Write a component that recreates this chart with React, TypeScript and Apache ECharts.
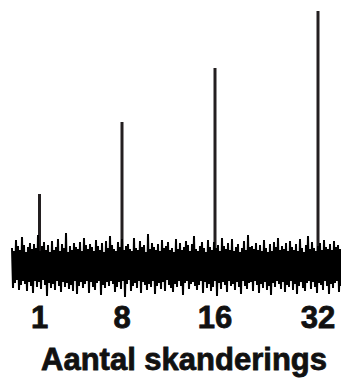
import React, { useEffect, useRef } from "react";
import * as echarts from "echarts";

// Scan counts and peak heights (in axis units; noise centred on 0)
const scanLabels = ["1", "8", "16", "32"];
const peakPositions = [28.5, 111, 204, 307];
const peakHeights = [72, 144, 198, 255];

// Baseline noise samples, read by eye from the band
const noise = [
  18, -22, 15, -17, 26, -14, 20, -24, 16, -19, 29, -15, 21, -18, 14, -25, 19, -16, 23, -20,
  17, -27, 22, -15, 18, -21, 31, -16, 15, -23, 20, -14, 24, -19, 16, -30, 21, -17, 14, -22,
  25, -18, 16, -24, 19, -15, 27, -20, 15, -26, 22, -16, 18, -21, 33, -17, 14, -23, 20, -19,
  16, -25, 23, -15, 19, -28, 17, -20, 24, -16, 15, -22, 28, -18, 21, -15, 17, -27, 22, -16,
  19, -21, 15, -24, 26, -17, 20, -15, 16, -29, 23, -19, 14, -22, 25, -16, 18, -20, 30, -15,
  21, -18, 17, -26, 15, -21, 24, -16, 19, -23, 27, -15, 16, -31, 20, -18, 22, -14, 17, -25,
  15, -20, 28, -17, 18, -22, 16, -15, 25, -27, 19, -16, 21, -19, 14, -24, 32, -18, 17, -21,
  23, -15, 19, -28, 16, -20, 22, -17, 15, -23, 26, -16, 18, -25, 20, -14, 24, -19, 16, -22,
  18, -26, 14, -18, 27, -21, 17, -15, 23, -20, 16, -29, 19, -17, 25, -15, 21, -23, 15, -18,
  22, -16, 30, -20, 17, -24, 15, -19, 20, -15, 24, -27, 18, -16, 14, -22, 26, -18, 19, -25,
  16, -21, 24, -15, 18, -30, 21, -17, 15, -23, 28, -16, 20, -19, 17, -26, 23, -15, 16, -20,
  27, -18, 15, -24, 19, -16, 22, -21, 14, -28, 18, -15, 25, -20, 16, -23, 31, -17, 19, -16,
  20, -25, 17, -15, 23, -19, 16, -27, 21, -18, 15, -22, 26, -16, 18, -24, 14, -20, 22, -29,
  15, -17, 24, -21, 19, -15, 28, -18, 16, -23, 20, -16, 17, -26, 23, -19, 15, -21, 25, -15,
  19, -24, 16, -18, 22, -28, 15, -20, 27, -16, 18, -22, 14, -25, 21, -17, 30, -15, 17, -23,
  24, -16, 18, -21, 15, -27, 20, -17, 23, -19, 16, -24, 26, -15, 19, -20, 17, -28, 22, -18,
  16, -22, 25, -17, 19, -15, 21, -26, 17, -20,
];

const axisTitle = "Aantal skanderings";

export default function App() {
  const ref = useRef<HTMLDivElement>(null);
  useEffect(() => {
    if (!ref.current) return;
    const chart = echarts.init(ref.current, null, { renderer: "svg" });
    const font = '"Liberation Sans", Arial, Helvetica, sans-serif';
    chart.setOption({
      animation: false,
      grid: { left: 11, right: 0, top: 10, bottom: 82, containLabel: false },
      xAxis: {
        type: "value",
        min: 0,
        max: 330,
        axisLine: { show: false },
        axisTick: { show: false },
        splitLine: { show: false },
        axisLabel: {
          customValues: peakPositions,
          margin: -4,
          color: "#111",
          fontSize: 31,
          fontWeight: "bold",
          fontFamily: font,
          textBorderColor: "#111",
          textBorderWidth: 0.8,
          formatter: (v: number) => {
            const i = peakPositions.indexOf(v);
            return i >= 0 ? scanLabels[i] : "";
          },
        },
      },
      yAxis: {
        type: "value",
        min: -40,
        max: 256,
        show: false,
      },
      graphic: [
        {
          type: "text",
          x: 184,
          y: 359,
          style: {
            text: axisTitle,
            fontSize: 31,
            fontWeight: "bold",
            fontFamily: font,
            fill: "#111",
            stroke: "#111",
            lineWidth: 0.8,
            textAlign: "center",
            textVerticalAlign: "middle",
          },
        },
      ],
      series: [
        {
          type: "line",
          data: noise.map((v, i) => [i + 1, v]),
          showSymbol: false,
          symbol: "none",
          lineStyle: { width: 2, color: "#000" },
          silent: true,
          clip: false,
        },
        {
          type: "bar",
          data: peakPositions.map((x, i) => [x, peakHeights[i]]),
          barWidth: 3,
          itemStyle: { color: "#231f20" },
          silent: true,
        },
      ],
    });
    return () => chart.dispose();
  }, []);
  return (
    <div
      ref={ref}
      style={{ position: "fixed", left: 0, top: 0, width: 341, height: 388, background: "#fff" }}
    />
  );
}
